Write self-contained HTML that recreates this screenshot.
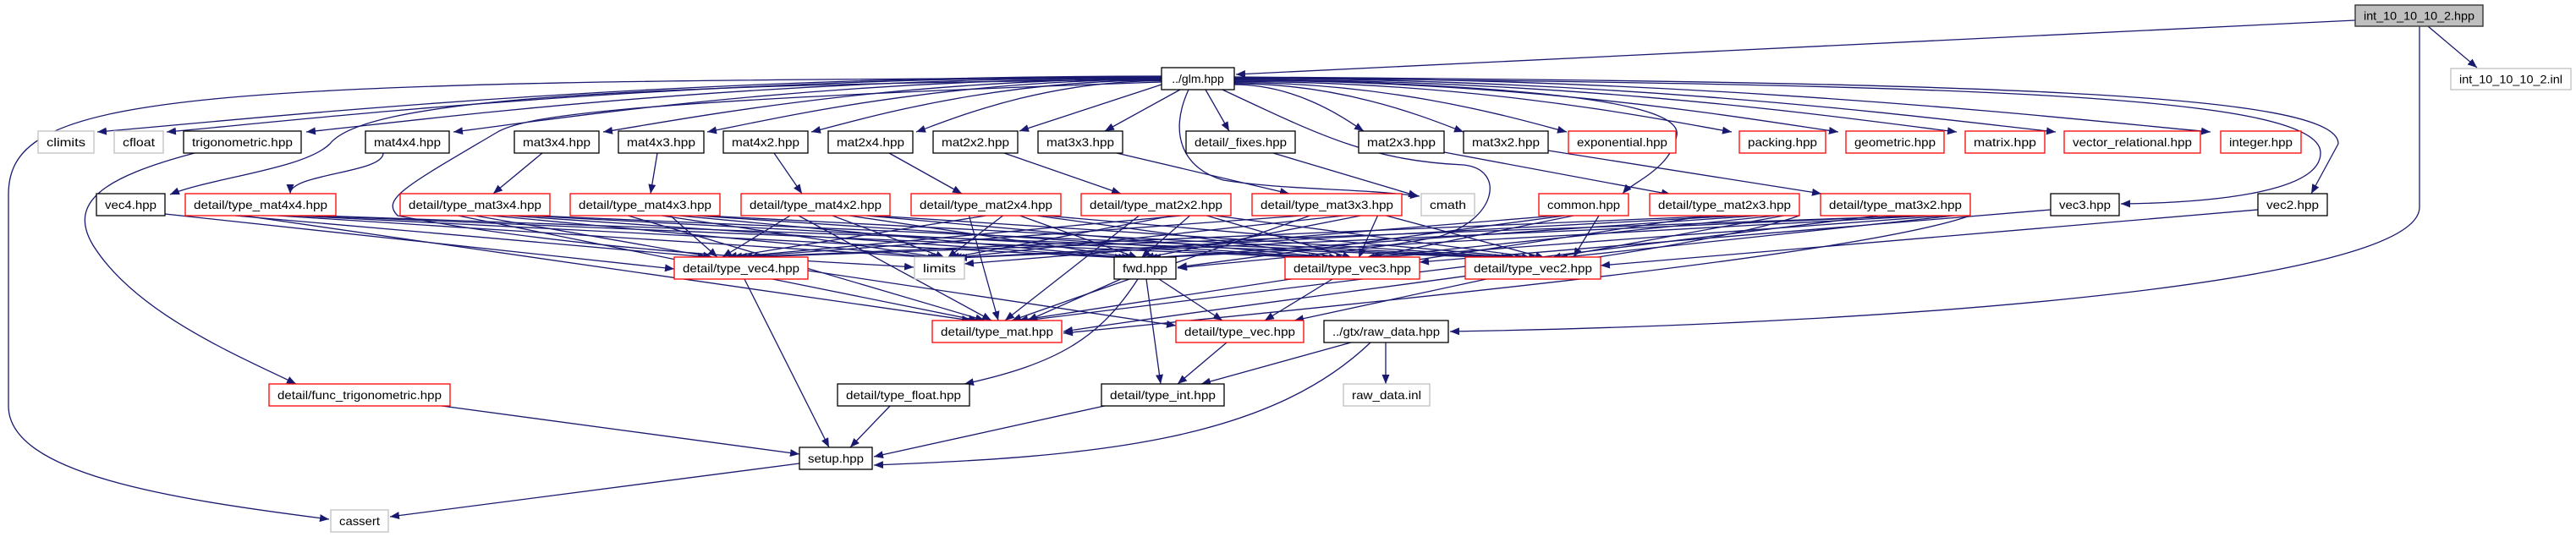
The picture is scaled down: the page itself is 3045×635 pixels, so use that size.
<!DOCTYPE html>
<html><head><meta charset="utf-8"><style>
html,body{margin:0;padding:0;background:#fff;}
svg{display:block;}
text{font-family:"Liberation Sans",sans-serif;font-size:14px;fill:#000;}
</style></head><body>
<svg id="g" width="3045" height="635" viewBox="0 0 3045 635" xmlns="http://www.w3.org/2000/svg">
<defs><marker id="a" markerWidth="11" markerHeight="9" refX="11" refY="4.5" orient="auto" markerUnits="userSpaceOnUse"><path d="M0,0 L11,4.5 L0,9z" fill="#191970"/></marker></defs>
<g id="edges" fill="none" stroke="#191970" stroke-width="1.3"></g>
<g id="nodes">
<rect x="2784" y="6" width="151" height="25" fill="#bfbfbf" stroke="#404040" stroke-width="1.5"/><text x="2859.5" y="23.5" text-anchor="middle" textLength="131" lengthAdjust="spacingAndGlyphs">int_10_10_10_2.hpp</text>
<rect x="1373" y="80" width="86" height="26" fill="#fff" stroke="#000" stroke-width="1.3"/><text x="1416" y="98" text-anchor="middle">../glm.hpp</text>
<rect x="2897" y="81" width="142" height="25" fill="#fff" stroke="#bfbfbf" stroke-width="1.3"/><text x="2968" y="98.5" text-anchor="middle" textLength="122" lengthAdjust="spacingAndGlyphs">int_10_10_10_2.inl</text>
</g>
</svg>
<script>
var NS="http://www.w3.org/2000/svg";
var ng=document.getElementById("nodes"),eg=document.getElementById("edges");
var W="#fff",K="#000",R="#ff0000",G="#bfbfbf";
function N(t,x1,x2,y,c){var r=document.createElementNS(NS,"rect");r.setAttribute("x",x1);r.setAttribute("y",y);r.setAttribute("width",x2-x1);r.setAttribute("height",26);r.setAttribute("fill",W);r.setAttribute("stroke",c);r.setAttribute("stroke-width","1.3");ng.appendChild(r);
var s=document.createElementNS(NS,"text");s.setAttribute("x",(x1+x2)/2);s.setAttribute("y",y+18);s.setAttribute("text-anchor","middle");s.setAttribute("textLength",(x2-x1)-20);s.setAttribute("lengthAdjust","spacingAndGlyphs");s.textContent=t;ng.appendChild(s);}
var r2=155,r3=229,r4=304,r5=379,r6=454;
[["climits",45,111,r2,G],["cfloat",135,193,r2,G],["trigonometric.hpp",217,356,r2,K],["mat4x4.hpp",432,531,r2,K],["mat3x4.hpp",608,708,r2,K],["mat4x3.hpp",731,832,r2,K],["mat4x2.hpp",855,955,r2,K],["mat2x4.hpp",979,1079,r2,K],["mat2x2.hpp",1103,1203,r2,K],["mat3x3.hpp",1227,1327,r2,K],["detail/_fixes.hpp",1402,1531,r2,K],["mat2x3.hpp",1606,1707,r2,K],["mat3x2.hpp",1730,1830,r2,K],["exponential.hpp",1854,1981,r2,R],["packing.hpp",2056,2158,r2,R],["geometric.hpp",2182,2298,r2,R],["matrix.hpp",2323,2417,r2,R],["vector_relational.hpp",2440,2601,r2,R],["integer.hpp",2625,2720,r2,R],
["vec4.hpp",114,195,r3,K],["detail/type_mat4x4.hpp",219,397,r3,R],["detail/type_mat3x4.hpp",473,650,r3,R],["detail/type_mat4x3.hpp",674,851,r3,R],["detail/type_mat4x2.hpp",876,1052,r3,R],["detail/type_mat2x4.hpp",1077,1254,r3,R],["detail/type_mat2x2.hpp",1278,1455,r3,R],["detail/type_mat3x3.hpp",1480,1657,r3,R],["cmath",1680,1743,r3,G],["common.hpp",1819,1925,r3,R],["detail/type_mat2x3.hpp",1950,2127,r3,R],["detail/type_mat3x2.hpp",2152,2329,r3,R],["vec3.hpp",2424,2505,r3,K],["vec2.hpp",2669,2751,r3,K],
["detail/type_vec4.hpp",797,955,r4,R],["limits",1081,1140,r4,G],["fwd.hpp",1317,1390,r4,K],["detail/type_vec3.hpp",1519,1678,r4,R],["detail/type_vec2.hpp",1732,1892,r4,R],
["detail/type_mat.hpp",1102,1255,r5,R],["detail/type_vec.hpp",1390,1541,r5,R],["../gtx/raw_data.hpp",1565,1712,r5,K],
["detail/func_trigonometric.hpp",318,532,r6,R],["detail/type_float.hpp",990,1146,r6,K],["detail/type_int.hpp",1302,1447,r6,K],["raw_data.inl",1588,1690,r6,G],
["setup.hpp",945,1031,529,K],["cassert",391,459,603,G]].forEach(function(n){N.apply(null,n);});
function P(d){var p=document.createElementNS(NS,"path");p.setAttribute("d",d);p.setAttribute("marker-end","url(#a)");eg.appendChild(p);}
function V(x1,y1,x2,y2){var m=(y1+y2)/2;P("M"+x1+","+y1+" C"+x1+","+m+" "+x2+","+m+" "+x2+","+y2);}
function S(x1,y1,x2,y2){P("M"+x1+","+y1+" L"+x2+","+y2);}
function H(x1,y1,x2,y2){P("M"+x1+","+y1+" C"+((x1+x2)/2)+","+y1+" "+(x2+(x1-x2)*0.12)+","+(y2-12)+" "+x2+","+y2);}
S(2784,24,1461,88);S(2870,31,2928,80);
P("M2860,31 L2860,245 C2860,330 2300,382 1714,392");
[[115,156],[197,156],[362,156],[536,156],[713,156],[836,156],[959,156],[1083,156]].forEach(function(t,i){H(1373,90+i*0.8,t[0],t[1]);});
S(1373,100,1205,155);S(1395,106,1306,155);S(1425,106,1453,155);
[[1612,155],[1730,156],[1852,156],[2047,156],[2173,156],[2313,156],[2430,156],[2613,156]].forEach(function(t,i){H(1459,100-i*1.2,t[0],t[1]);});
P("M1373,92 C200,95 10,110 10,230 L10,480 C10,560 200,590 389,614");
P("M1373,94 C700,100 430,120 390,170 C360,200 250,210 201,230");
P("M1405,106 C1380,160 1400,200 1446,213 C1520,225 1600,222 1678,232");
P("M1459,93 C1800,100 1990,120 1982,160 C1975,200 1930,215 1918,229");
P("M1459,92 C2300,100 2740,110 2743,180 C2745,230 2600,240 2507,241");
P("M1459,91 C2350,97 2765,110 2764,170 L2732,229");
P("M1445,106 C1560,160 1620,190 1730,195 C1780,200 1770,260 1700,280 C1600,300 1450,310 1392,317");
P("M1373,97 C700,120 620,140 590,155 C480,220 450,235 470,255 C700,300 1000,310 1080,316");
P("M230,181 C120,210 80,240 110,290 C160,370 280,420 350,454");
V(453,181,343,229);S(641,181,583,229);S(777,181,769,229);S(915,181,948,229);S(1051,181,1137,229);S(1187,181,1325,229);S(1320,181,1524,229);S(1505,181,1676,232);S(1707,180,1975,230);S(1830,178,2153,229);
var mats=[[219,397],[473,650],[674,851],[876,1052],[1077,1254],[1278,1455],[1480,1657],[1950,2127],[2152,2329]];
var vt=[[860,304],[1120,304],[1345,304],[1590,304],[1810,304]];
mats.forEach(function(m,i){var c=(m[0]+m[1])/2;
 S(c+(i%3-1)*30,255,vt[0][0]+(i-4)*6,304);S(c+20,255,vt[1][0]+(i-4)*3,305);S(c+40,255,vt[2][0]+(i-4)*4,305);
 S(c+60,255,vt[3][0]+(i-4)*8,305);S(c+70,255,vt[4][0]+(i-4)*8,305);S(c-20,255,1180+(i-4)*8,379);});
S(195,253,797,318);S(2424,248,1678,310);S(2669,248,1892,314);
S(1840,255,1140,312);S(1850,255,1392,316);S(1860,255,1620,304);S(1890,255,1860,304);
S(955,320,1390,385);S(1575,330,1495,379);S(1757,330,1530,379);S(1325,330,1215,379);S(1370,330,1445,379);
P("M1345,330 C1300,400 1250,430 1140,454");S(1355,330,1372,454);S(880,330,980,529);
P("M2127,255 C2000,300 1600,340 1257,392");
P("M2329,255 C2200,300 1700,350 1257,394");
S(1450,405,1392,454);S(1597,405,1420,454);S(1638,405,1638,454);
P("M1620,405 C1500,520 1300,540 1033,550");
S(1053,479,1005,529);S(1310,479,1033,540);S(515,479,945,537);S(945,548,461,611);
</script>
</body></html>
